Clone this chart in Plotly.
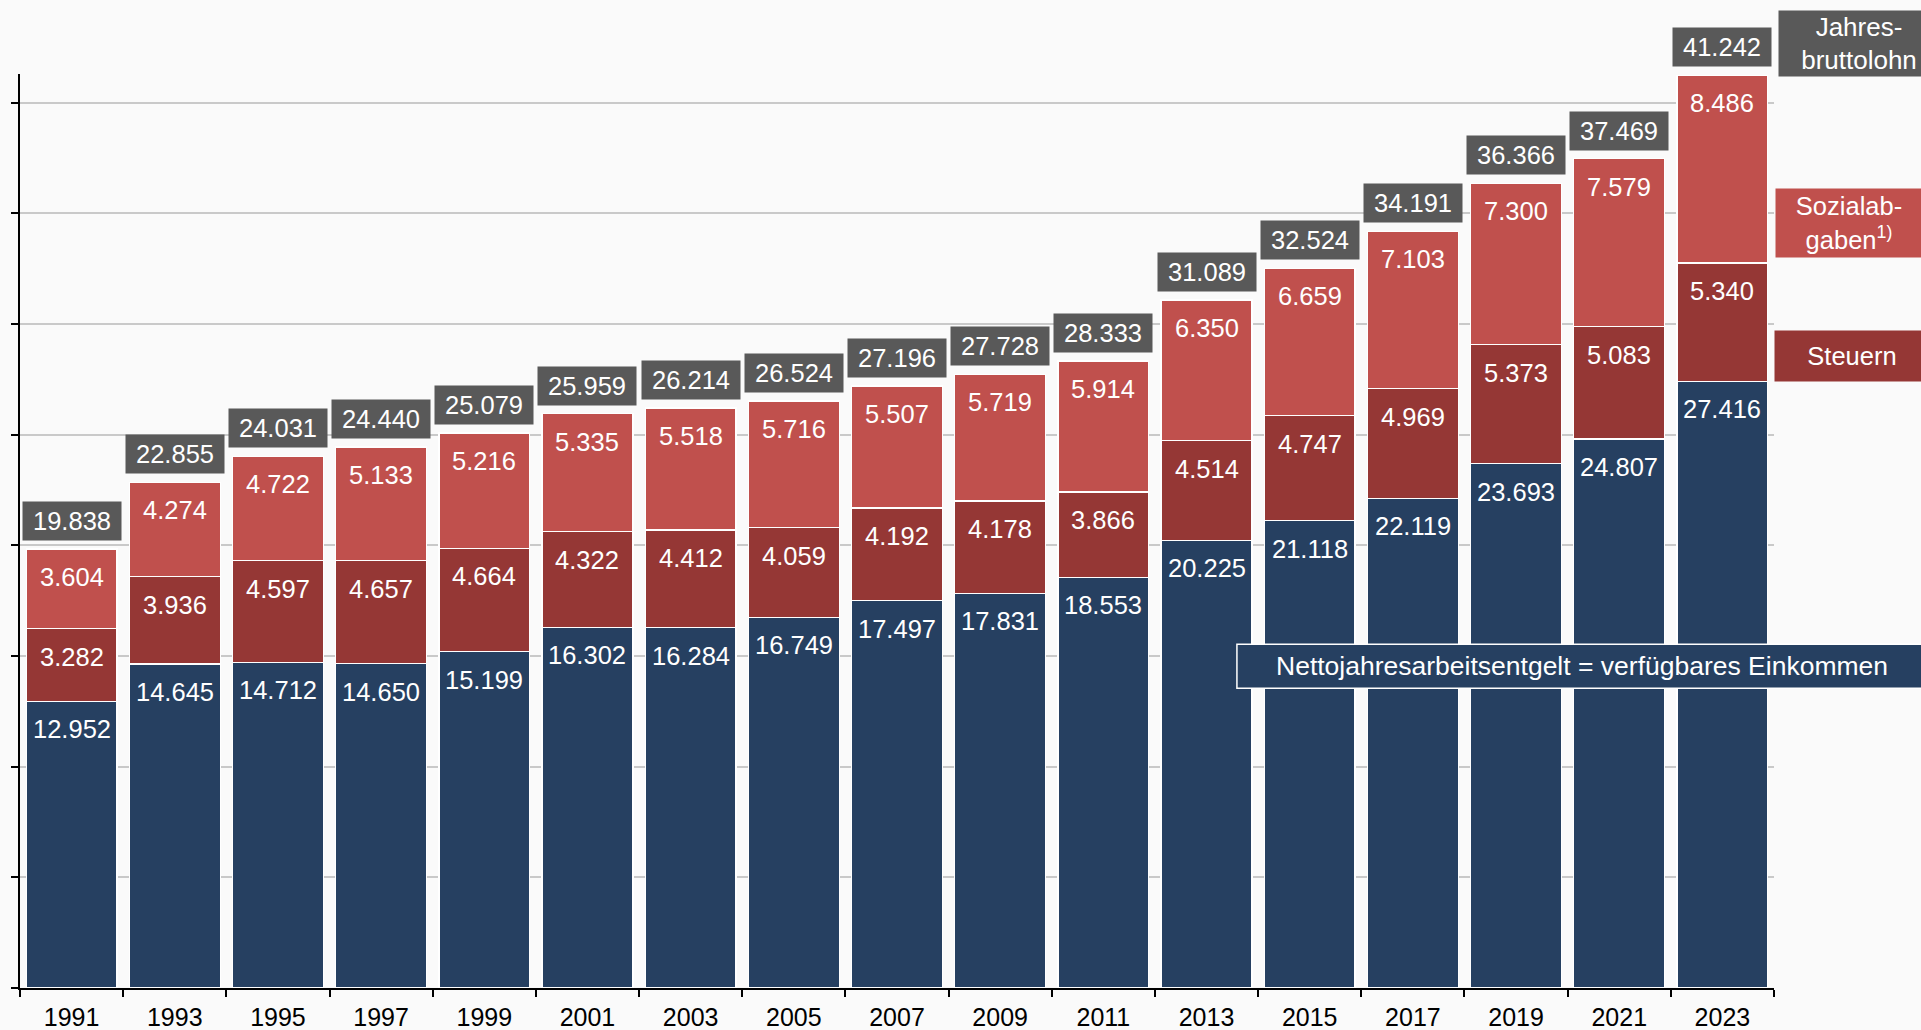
import plotly.graph_objects as go

# Jahresbruttolohn je Arbeitnehmer und seine Aufteilung (Euro)
years = ["1991", "1993", "1995", "1997", "1999", "2001", "2003", "2005", "2007",
         "2009", "2011", "2013", "2015", "2017", "2019", "2021", "2023"]
netto = [12952, 14645, 14712, 14650, 15199, 16302, 16284, 16749, 17497,
         17831, 18553, 20225, 21118, 22119, 23693, 24807, 27416]
steuern = [3282, 3936, 4597, 4657, 4664, 4322, 4412, 4059, 4192,
           4178, 3866, 4514, 4747, 4969, 5373, 5083, 5340]
sozialabgaben = [3604, 4274, 4722, 5133, 5216, 5335, 5518, 5716, 5507,
                 5719, 5914, 6350, 6659, 7103, 7300, 7579, 8486]
brutto = [19838, 22855, 24031, 24440, 25079, 25959, 26214, 26524, 27196,
          27728, 28333, 31089, 32524, 34191, 36366, 37469, 41242]

NAVY = "#264061"
DARK_RED = "#953735"
LIGHT_RED = "#C0504D"
GREY = "#595959"
BG = "#FAFAFA"
FONT = "Liberation Sans, Arial, sans-serif"


def de(v):
    return f"{v:,}".replace(",", ".")


fig = go.Figure()
for name, vals, col in [("Netto", netto, NAVY),
                        ("Steuern", steuern, DARK_RED),
                        ("Sozialabgaben", sozialabgaben, LIGHT_RED)]:
    fig.add_trace(go.Bar(x=years, y=vals, name=name, marker_color=col,
                         marker_line_color="white", marker_line_width=1.3,
                         hoverinfo="x+y"))

annotations = []
# segment values, placed just below the top of each segment
# (x given as category index so the year strings are not read as numbers)
for i in range(len(years)):
    tops = [netto[i], netto[i] + steuern[i], netto[i] + steuern[i] + sozialabgaben[i]]
    for top, val in zip(tops, [netto[i], steuern[i], sozialabgaben[i]]):
        annotations.append(dict(x=i, y=top, xref="x", yref="y", text=de(val),
                                showarrow=False, yanchor="top", yshift=-12,
                                font=dict(family=FONT, size=25.5, color="white")))
    # gross total in a grey box above the bar
    annotations.append(dict(x=i, y=brutto[i], xref="x", yref="y", text=de(brutto[i]),
                            showarrow=False, yanchor="bottom", yshift=8,
                            bgcolor=GREY, width=94, height=34, borderpad=2,
                            font=dict(family=FONT, size=25.5, color="white")))

# series labels on the right
annotations += [
    dict(x=1.0023, y=1.0334, xref="paper", yref="paper", xanchor="left", yanchor="middle",
         text="Jahres-<br>bruttolohn", showarrow=False, bgcolor=GREY,
         width=156, height=61, borderpad=2,
         font=dict(family=FONT, size=26, color="white")),
    dict(x=1.0006, y=0.8369, xref="paper", yref="paper", xanchor="left", yanchor="middle",
         text="Sozialab-<br>gaben<sup>1)</sup>", showarrow=False, bgcolor=LIGHT_RED,
         width=142, height=64, borderpad=2,
         font=dict(family=FONT, size=25.5, color="white")),
    dict(x=1.0, y=0.6914, xref="paper", yref="paper", xanchor="left", yanchor="middle",
         text="Steuern", showarrow=False, bgcolor=DARK_RED,
         width=150, height=46, borderpad=2,
         font=dict(family=FONT, size=25.5, color="white")),
    dict(x=0.8905, y=0.3521, xref="paper", yref="paper", xanchor="center", yanchor="middle",
         text="Nettojahresarbeitsentgelt = verfügbares Einkommen", showarrow=False,
         font=dict(family=FONT, size=26.5, color="white")),
]

fig.update_layout(
    barmode="stack",
    bargap=0.12,
    width=1921, height=1030,
    margin=dict(l=20, r=147, t=74, b=42),
    paper_bgcolor=BG, plot_bgcolor=BG,
    showlegend=False,
    font=dict(family=FONT, color="black"),
    annotations=annotations,
    shapes=[dict(type="rect", xref="paper", yref="paper",
                 x0=0.6938, x1=1.2, y0=0.328, y1=0.3762,
                 fillcolor=NAVY, line=dict(color="white", width=1.5), layer="above")],
)
fig.update_xaxes(type="category", range=[-0.5, len(years) - 0.5], automargin=False,
                 showline=True, linecolor="black", linewidth=2,
                 ticks="outside", tickson="boundaries", ticklen=7, tickwidth=2,
                 tickcolor="black", showgrid=False, tickangle=0, ticklabelstandoff=6,
                 tickfont=dict(family=FONT, size=25, color="black"))
fig.update_yaxes(range=[0, 41300], dtick=5000, showticklabels=False, automargin=False,
                 showline=True, linecolor="black", linewidth=2,
                 ticks="outside", ticklen=7, tickwidth=2, tickcolor="black",
                 showgrid=True, gridcolor="#C9C9C9", gridwidth=2, zeroline=False)

fig.write_html("out.html")
